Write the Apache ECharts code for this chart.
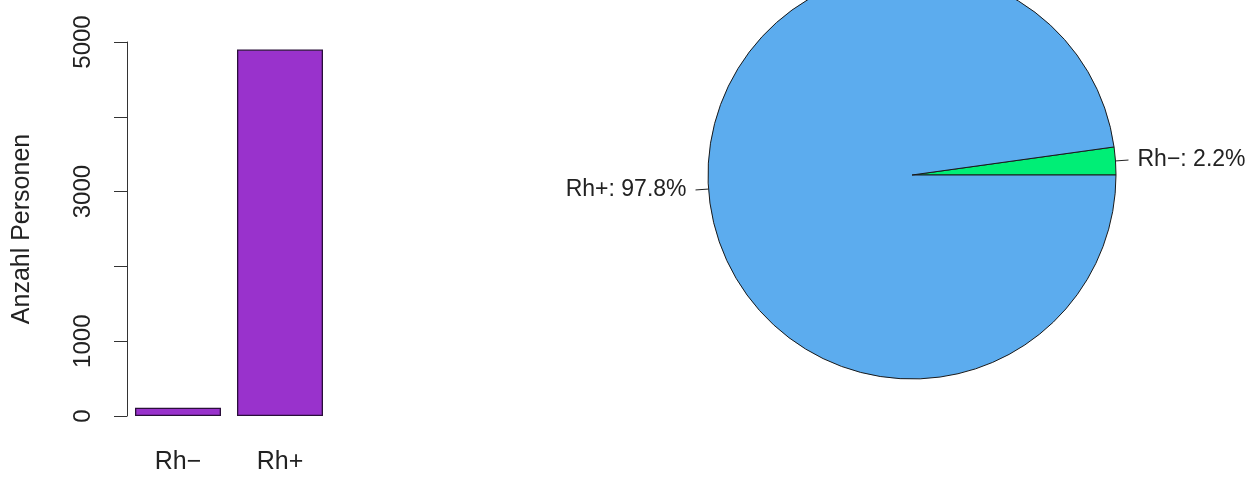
<!DOCTYPE html>
<html>
<head>
<meta charset="utf-8">
<script src="https://cdn.jsdelivr.net/npm/echarts@6/dist/echarts.min.js"></script>
<style>
html,body{margin:0;padding:0;background:#fff;}
#c{width:1249px;height:478px;}
</style>
</head>
<body>
<div id="c"></div>
<script>
const categories = ['Rh\u2212', 'Rh+'];
const counts = [110, 4900];
const yTicksShown = [0, 1000, 3000, 5000];
const yAxisTitle = 'Anzahl Personen';
const pieNames = ['Rh\u2212', 'Rh+'];

const FONT = 'Liberation Sans, Arial, Helvetica, sans-serif';
const chart = echarts.init(document.getElementById('c'), null, {renderer: 'canvas'});
chart.setOption({
  backgroundColor: '#ffffff',
  animation: false,
  grid: {left: 127, right: 918, top: 42, bottom: 62, containLabel: false},
  xAxis: {
    type: 'category',
    data: categories,
    axisLine: {show: false},
    axisTick: {show: false},
    axisLabel: {fontFamily: FONT, fontSize: 25, color: '#222', margin: 34}
  },
  yAxis: {
    type: 'value',
    min: 0, max: 5000, interval: 1000,
    name: yAxisTitle,
    nameLocation: 'middle',
    nameRotate: 90,
    nameGap: 92,
    nameTextStyle: {fontFamily: FONT, fontSize: 25, color: '#222'},
    splitLine: {show: false},
    axisLine: {show: true, lineStyle: {color: '#333', width: 1}},
    axisTick: {show: true, inside: false, length: 13, lineStyle: {color: '#333'}},
    axisLabel: {
      rotate: 90, margin: 32, fontFamily: FONT, fontSize: 24, color: '#222',
      formatter: v => yTicksShown.includes(v) ? String(v) : ''
    }
  },
  series: [
    {
      type: 'bar',
      data: counts,
      barWidth: 86,
      itemStyle: {color: '#9932CC', borderColor: '#2a0f3a', borderWidth: 1.3}
    },
    {
      type: 'pie',
      center: [912, 175],
      radius: 204,
      startAngle: 0,
      clockwise: false,
      avoidLabelOverlap: false,
      percentPrecision: 1,
      data: pieNames.map((n, i) => ({name: n, value: counts[i]})),
      color: ['#00EE76', '#5CACEE'],
      itemStyle: {borderColor: '#1a1a1a', borderWidth: 1},
      label: {
        show: true,
        formatter: '{b}: {d}%',
        fontFamily: FONT, fontSize: 23, color: '#222',
        distanceToLabelLine: 9
      },
      labelLine: {show: true, length: 13, length2: 0, smooth: false, lineStyle: {color: '#222', width: 1}},
      emphasis: {disabled: true}
    }
  ]
});
</script>
</body>
</html>
